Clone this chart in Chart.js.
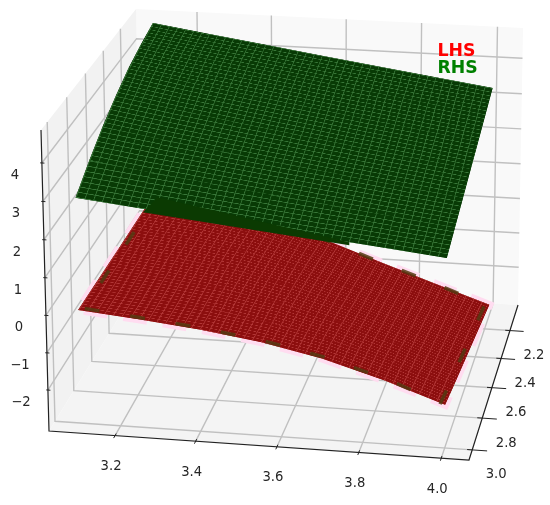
<!DOCTYPE html>
<html><head><meta charset="utf-8">
<style>html,body{margin:0;padding:0;background:#fff}canvas{display:block}</style>
<script src="https://cdn.jsdelivr.net/npm/chart.js@4/dist/chart.umd.min.js"></script>
</head><body><canvas id="c" width="550" height="505"></canvas>
<script>
// tick values
const xTicks=[3.2,3.4,3.6,3.8,4.0];
const yTicks=[2.2,2.4,2.6,2.8,3.0];
const zTicks=[-2,-1,0,1,2,3,4];
const xTickLabels=['3.2','3.4','3.6','3.8','4.0'];
const yTickLabels=['2.2','2.4','2.6','2.8','3.0'];
const zTickLabels=['\u22122','\u22121','0','1','2','3','4'];
// surface sample positions
const surfX=[3.1,3.25,3.4,3.55,3.7,3.85,4.0];
const surfY=[2.1,2.25,2.4,2.55,2.7,2.85,3.0];
// RHS surface z, one row per surfY
const rhsZ=[
[4.75,4.52,4.30,4.07,3.85,3.63,3.41],
[4.60,4.34,4.10,3.86,3.63,3.39,3.16],
[4.40,4.12,3.87,3.63,3.38,3.15,2.91],
[4.12,3.85,3.60,3.36,3.12,2.90,2.67],
[3.78,3.52,3.29,3.07,2.85,2.63,2.42],
[3.38,3.16,2.96,2.75,2.56,2.36,2.17],
[2.92,2.75,2.59,2.42,2.25,2.09,1.92]];
// LHS surface z, one row per surfY
const lhsZ=[
[-0.10,-0.30,-0.64,-1.16,-1.72,-2.26,-2.80],
[-0.09,-0.28,-0.58,-1.04,-1.58,-2.12,-2.66],
[-0.08,-0.26,-0.53,-0.93,-1.44,-1.97,-2.52],
[-0.08,-0.25,-0.48,-0.84,-1.30,-1.82,-2.38],
[-0.07,-0.23,-0.44,-0.75,-1.16,-1.67,-2.24],
[-0.06,-0.22,-0.41,-0.68,-1.04,-1.52,-2.10],
[-0.05,-0.20,-0.37,-0.60,-0.93,-1.40,-1.95]];
// dark band along the front of the RHS surface: x, y, z
const bandX=[3.265,3.766,3.766,3.29];
const bandY=[3.0,3.0,3.0,2.947];
const bandZ=[2.64,2.10,2.18,2.86];
// axis limits
const xLim=[3.035,4.067], yLim=[3.062,2.01], zLim=[-3.11,4.85];

// camera fitted to the box in the picture
function project(x,y,z){
  const u=(x-xLim[0])/(xLim[1]-xLim[0]), v=(yLim[0]-y)/(yLim[0]-yLim[1]), w=(z-zLim[0])/(zLim[1]-zLim[0]);
  const d=1-0.019*u+0.116*v-0.028*w;
  return {x:(49+411.1*u+108.16*v-9.15*w)/d, y:(431+20.3*u-116.67*v-304.64*w)/d};
}
const list=[];
function line(pts,color,width,extra){list.push(Object.assign({data:pts,showLine:true,borderColor:color,borderWidth:width,pointRadius:0,fill:false},extra||{}));}
function poly(pts,bg){list.push({data:pts.concat([pts[0]]),showLine:true,borderWidth:0,borderColor:'rgba(0,0,0,0)',backgroundColor:bg,pointRadius:0,fill:'shape'});}
const [x0,x1]=xLim,[y0,y1]=yLim,[z0,z1]=zLim;
// panes
poly([project(x0,y1,z0),project(x1,y1,z0),project(x1,y1,z1),project(x0,y1,z1)],'#f9f9f9');
poly([project(x0,y0,z0),project(x0,y1,z0),project(x0,y1,z1),project(x0,y0,z1)],'#f2f2f2');
poly([project(x0,y0,z0),project(x1,y0,z0),project(x1,y1,z0),project(x0,y1,z0)],'#f4f4f4');
// grid
const gridC='#c0c0c0',gw=1.4;
xTicks.forEach(t=>{line([project(t,y0,z0),project(t,y1,z0),project(t,y1,z1)],gridC,gw);});
yTicks.forEach(t=>{line([project(x1,t,z0),project(x0,t,z0),project(x0,t,z1)],gridC,gw);});
zTicks.forEach(t=>{line([project(x0,y0,t),project(x0,y1,t),project(x1,y1,t)],gridC,gw);});
// axes
line([project(x0,y0,z1),project(x0,y0,z0),project(x1,y0,z0),project(x1,y1,z0)],'#222',1.2);
const dX=x1-x0,dY=y0-y1;
xTicks.forEach(t=>line([project(t,y0+0.015*dY,z0),project(t,y0-0.012*dY,z0)],'#222',1));
yTicks.forEach(t=>line([project(x1-0.012*dX,t,z0),project(x1+0.035*dX,t,z0)],'#222',1));
zTicks.forEach(t=>line([project(x0-0.004*dX,y0,t),project(x0+0.006*dX,y0,t)],'#222',1));

function tile(base,stroke,hw,vw){
  const c=document.createElement('canvas');c.width=16;c.height=16;
  const g=c.getContext('2d');g.fillStyle=base;g.fillRect(0,0,16,16);
  g.fillStyle=stroke;g.fillRect(0,0,16,hw);g.fillRect(0,0,vw,16);
  return c;
}
const patCtx=document.getElementById('c').getContext('2d');
function surface(zs,base,stroke,hw,vw){
  const t=tile(base,stroke,hw,vw),n=surfX.length,m=surfY.length;
  const outline=[];
  for(let c=0;c<n;c++)outline.push(project(surfX[c],surfY[0],zs[0][c]));
  for(let r=1;r<m;r++)outline.push(project(surfX[n-1],surfY[r],zs[r][n-1]));
  for(let c=n-2;c>=0;c--)outline.push(project(surfX[c],surfY[m-1],zs[m-1][c]));
  for(let r=m-2;r>0;r--)outline.push(project(surfX[0],surfY[r],zs[r][0]));
  poly(outline,base);
  const sub=7*16;
  for(let r=0;r<m-1;r++)for(let c=0;c<n-1;c++){
    const a=project(surfX[c],surfY[r],zs[r][c]),b=project(surfX[c+1],surfY[r],zs[r][c+1]);
    const e=project(surfX[c+1],surfY[r+1],zs[r+1][c+1]),f=project(surfX[c],surfY[r+1],zs[r+1][c]);
    const p=patCtx.createPattern(t,'repeat');
    p.setTransform(new DOMMatrix([((b.x-a.x)+(e.x-f.x))/2/sub,((b.y-a.y)+(e.y-f.y))/2/sub,((f.x-a.x)+(e.x-b.x))/2/sub,((f.y-a.y)+(e.y-b.y))/2/sub,a.x,a.y]));
    poly([a,b,e,f],p);
  }
}
// pink halo beneath the LHS surface
const n=surfX.length-1,m=surfY.length-1;
function rim(ox,oy){
  const pts=[];
  for(let c=3;c<=n;c++)pts.push(project(surfX[c]+(c==n?ox:0),surfY[0]-(0),lhsZ[0][c]));
  for(let r=1;r<=m;r++)pts.push(project(surfX[n]+ox,surfY[r]+(r==m?oy:0),lhsZ[r][n]));
  for(let c=n-1;c>=0;c--)pts.push(project(surfX[c]-(c==0?ox:0),surfY[m]+oy,lhsZ[m][c]));
  for(let r=m-1;r>=1;r--)pts.push(project(surfX[0]-ox,surfY[r],lhsZ[r][0]));
  return pts;
}
line(rim(0,0),'#ffdcf0',8,{borderDash:[24,16]});
surface(lhsZ,'#8c0e0e','#b23636',2.5,1.5);
line(rim(-0.012,-0.012),'rgba(84,58,18,0.85)',3.5,{borderDash:[15,31],borderDashOffset:6,borderCapStyle:'butt'});
surface(rhsZ,'#083a05','#377537',2.5,1.5);
poly(bandX.map((x,i)=>project(x,bandY[i],bandZ[i])),'#0b3a02');

const labels={id:'labels',afterDatasetsDraw(ch){
  const g=ch.ctx;g.save();g.textAlign='center';g.textBaseline='middle';g.fillStyle='#262626';g.font='13.2px "DejaVu Sans"';
  xTicks.forEach((t,i)=>{const p=project(t,y0,z0);g.fillText(xTickLabels[i],p.x-4,p.y+31);});
  yTicks.forEach((t,i)=>{const p=project(x1,t,z0);g.fillText(yTickLabels[i],p.x+24,p.y+25);});
  zTicks.forEach((t,i)=>{const p=project(x0,y0,t);g.fillText(zTickLabels[i],p.x-27,p.y+12.5);});
  g.textAlign='left';g.textBaseline='alphabetic';g.font='bold 17.3px "DejaVu Sans"';
  g.fillStyle='#ff0000';g.fillText('LHS',437.5,55.5);
  g.fillStyle='#008000';g.fillText('RHS',437.5,72.5);
  g.restore();
}};
list.forEach((d,i)=>{d.order=list.length-i;});
new Chart(document.getElementById('c'),{type:'scatter',data:{datasets:list},plugins:[labels],options:{
  responsive:false,animation:false,events:[],layout:{padding:0},
  elements:{line:{tension:0}},
  plugins:{legend:{display:false},tooltip:{enabled:false},title:{display:false}},
  scales:{x:{type:'linear',min:0,max:550,display:false},y:{type:'linear',min:0,max:505,reverse:true,display:false}}
}});
</script></body></html>
